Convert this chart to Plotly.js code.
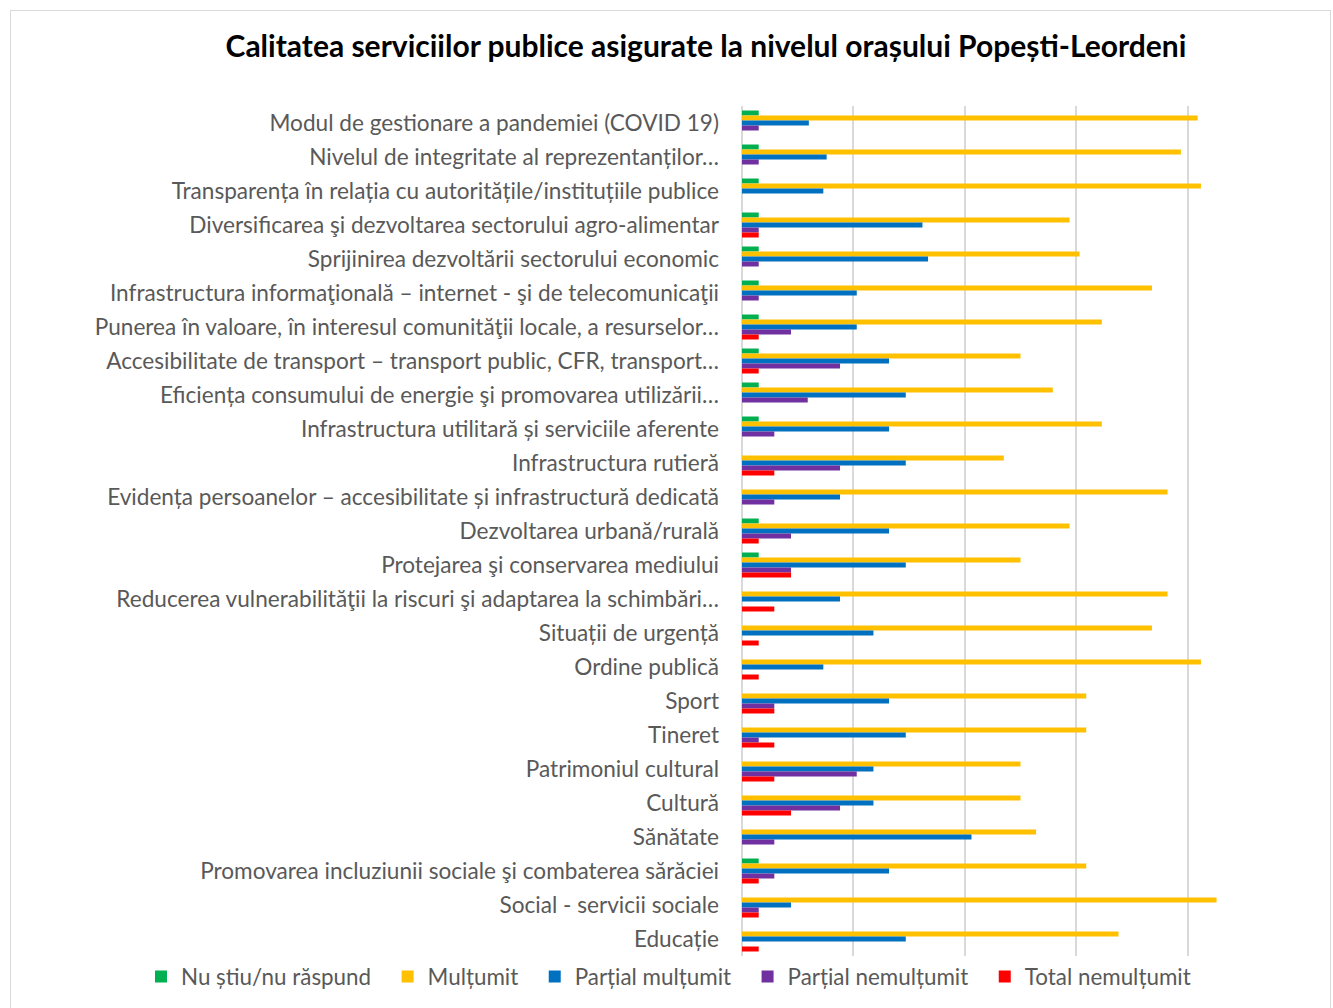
<!DOCTYPE html>
<html>
<head>
<meta charset="utf-8">
<script src="https://cdn.plot.ly/plotly-3.0.1.min.js"></script>
<style>
  html, body { margin: 0; padding: 0; background: #ffffff; }
  #chart { width: 1333px; height: 1008px; position: relative; }
  #frame { position: absolute; left: 10px; top: 10px; width: 1321px; height: 1010px; border: 1px solid #d9d9d9; pointer-events: none; box-sizing: border-box; }
</style>
</head>
<body>
<div id="chart"></div>
<div id="frame"></div>
<script>
// Categories, top to bottom as shown
const categories = [
  "Modul de gestionare a pandemiei (COVID 19)",
  "Nivelul de integritate al reprezentanților…",
  "Transparența în relația cu autoritățile/instituțiile publice",
  "Diversificarea şi dezvoltarea sectorului agro-alimentar",
  "Sprijinirea dezvoltării sectorului economic",
  "Infrastructura informaţională – internet - şi de telecomunicaţii",
  "Punerea în valoare, în interesul comunităţii locale, a resurselor…",
  "Accesibilitate de transport – transport public, CFR, transport…",
  "Eficiența consumului de energie şi promovarea utilizării…",
  "Infrastructura utilitară și serviciile aferente",
  "Infrastructura rutieră",
  "Evidența persoanelor – accesibilitate și infrastructură dedicată",
  "Dezvoltarea urbană/rurală",
  "Protejarea şi conservarea mediului",
  "Reducerea vulnerabilităţii la riscuri şi adaptarea la schimbări…",
  "Situații de urgență",
  "Ordine publică",
  "Sport",
  "Tineret",
  "Patrimoniul cultural",
  "Cultură",
  "Sănătate",
  "Promovarea incluziunii sociale şi combaterea sărăciei",
  "Social - servicii sociale",
  "Educație"
];

const seriesNames = ["Nu știu/nu răspund", "Mulțumit", "Parțial mulțumit", "Parțial nemulțumit", "Total nemulțumit"];

const nuStiu = [1.5, 1.5, 1.5, 1.5, 1.5, 1.5, 1.5, 1.5, 1.5, 1.5, 0, 0, 1.5, 1.5, 0, 0, 0, 0, 0, 0, 0, 0, 1.5, 0, 0];
const multumit = [40.9, 39.4, 41.2, 29.4, 30.3, 36.8, 32.3, 25.0, 27.9, 32.3, 23.5, 38.2, 29.4, 25.0, 38.2, 36.8, 41.2, 30.9, 30.9, 25.0, 25.0, 26.4, 30.9, 42.6, 33.8];
const partialMultumit = [6.0, 7.6, 7.3, 16.2, 16.7, 10.3, 10.3, 13.2, 14.7, 13.2, 14.7, 8.8, 13.2, 14.7, 8.8, 11.8, 7.3, 13.2, 14.7, 11.8, 11.8, 20.6, 13.2, 4.4, 14.7];
const partialNemultumit = [1.5, 1.5, 0, 1.5, 1.5, 1.5, 4.4, 8.8, 5.9, 2.9, 8.8, 2.9, 4.4, 4.4, 0, 0, 0, 2.9, 1.5, 10.3, 8.8, 2.9, 2.9, 1.5, 0];
const totalNemultumit = [0, 0, 0, 1.5, 0, 0, 1.5, 1.5, 0, 0, 2.9, 0, 1.5, 4.4, 2.9, 1.5, 1.5, 2.9, 2.9, 2.9, 4.4, 0, 1.5, 1.5, 1.5];

const seriesValues = [nuStiu, multumit, partialMultumit, partialNemultumit, totalNemultumit];
const seriesColors = ["#00b050", "#ffc000", "#0070c0", "#7030a0", "#ff0000"];

const FONT = "Lato, 'Open Sans', sans-serif";

const traces = seriesNames.map((name, i) => ({
  type: "bar",
  orientation: "h",
  name: name + "\u00a0\u00a0",
  y: categories,
  x: seriesValues[i],
  marker: { color: seriesColors[i], line: { width: 0 } },
  hoverinfo: "x+y+name"
}));

const layout = {
  width: 1333,
  height: 1008,
  paper_bgcolor: "#ffffff",
  plot_bgcolor: "#ffffff",
  font: { family: FONT, color: "#595959", size: 22 },
  title: {
    text: "<b>Calitatea serviciilor publice asigurate la nivelul orașului Popești-Leordeni</b>",
    font: { family: FONT, size: 30, color: "#000000" },
    x: 0.5296, xanchor: "center",
    y: 0.954, yanchor: "middle",
    xref: "container", yref: "container"
  },
  margin: { l: 742, r: 34, t: 106, b: 52, pad: 0, autoexpand: false },
  barmode: "group",
  bargap: 0.265,
  bargroupgap: 0,
  xaxis: {
    range: [0, 50],
    dtick: 10,
    tick0: 0,
    showticklabels: false,
    showgrid: true,
    gridcolor: "#d9d9d9",
    gridwidth: 1.5,
    zeroline: true,
    zerolinecolor: "#d9d9d9",
    zerolinewidth: 1.5,
    showline: false,
    fixedrange: true
  },
  yaxis: {
    type: "category",
    autorange: "reversed",
    showgrid: false,
    zeroline: false,
    showline: false,
    ticks: "",
    ticklabelstandoff: 22,
    tickfont: { family: FONT, size: 22.6, color: "#595959" },
    fixedrange: true
  },
  legend: {
    orientation: "h",
    xref: "paper", yref: "paper",
    x: -1.079, xanchor: "left",
    y: -0.0247, yanchor: "middle",
    font: { family: FONT, size: 22.4, color: "#595959" },
    tracegroupgap: 0,
    traceorder: "normal",
    bgcolor: "rgba(0,0,0,0)"
  },
  showlegend: true
};

Plotly.newPlot("chart", traces, layout, { displayModeBar: false, responsive: false });
</script>
</body>
</html>
